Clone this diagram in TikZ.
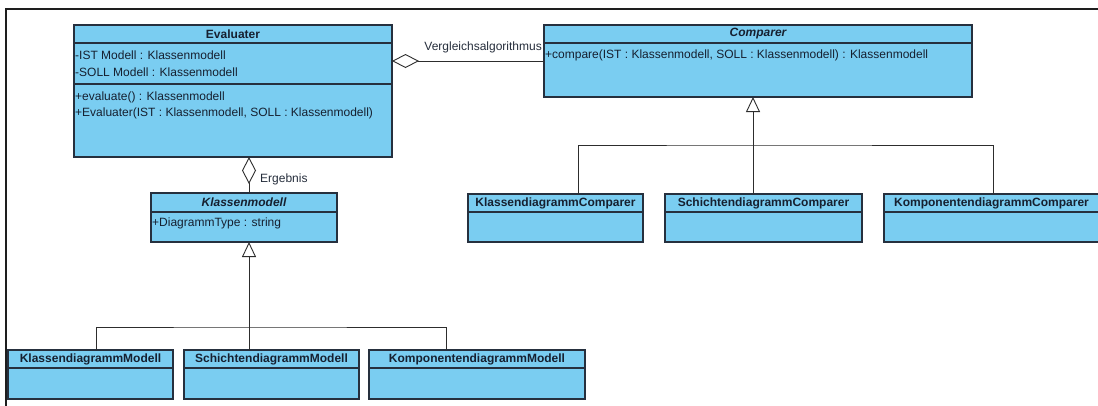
\documentclass[tikz,border=0pt]{standalone}
\usepackage{fontspec}
\setmainfont{Liberation Sans}
\usetikzlibrary{arrows.meta}
\definecolor{boxfill}{RGB}{122,205,241}
\definecolor{boxline}{RGB}{38,48,62}
\definecolor{txt}{RGB}{22,32,48}
\definecolor{wirec}{RGB}{45,45,45}
\definecolor{framec}{RGB}{30,30,30}
\begin{document}
\begin{tikzpicture}[x=1pt,y=-1pt,
  cls/.style={draw=boxline, fill=boxfill, line width=1.1pt, rectangle, inner sep=0pt, outer sep=0pt, anchor=north west},
  sepl/.style={draw=boxline, line width=1.1pt},
  ttl/.style={font=\bfseries\fontsize{12}{13}\selectfont, text=txt, inner sep=0pt},
  ttli/.style={font=\bfseries\itshape\fontsize{12}{13}\selectfont, text=txt, inner sep=0pt},
  mem/.style={font=\fontsize{12}{13}\selectfont, text=txt, inner sep=0pt, anchor=west},
  lbl/.style={font=\fontsize{12}{13}\selectfont, text=txt!85!gray, inner sep=0pt},
  wire/.style={draw=wirec, line width=0.9pt},
  agg/.style={wire, {Diamond[fill=white, length=27pt, width=14pt]}-},
  gen/.style={wire, -{Triangle[fill=white, length=15pt, width=14pt]}},
  border/.style={draw=framec, line width=1.8pt}
]
\useasboundingbox (0,0) rectangle (1098,405);
\fill[white] (0,0) rectangle (1098,405);
\draw[border] (1100,9) -- (6,9) -- (6,407);

% Evaluater
\node[cls, minimum width=318pt, minimum height=132pt] (ev) at (74,25) {};
\draw[sepl] ([yshift=-18pt]ev.north west) -- ([yshift=-18pt]ev.north east);
\draw[sepl] ([yshift=-59pt]ev.north west) -- ([yshift=-59pt]ev.north east);
\node[ttl] (evN) at ([yshift=-9pt]ev.north) {Evaluater};
\node[mem] (ev1) at ([xshift=1pt,yshift=-30pt]ev.north west) {-IST Modell : Klassenmodell};
\node[mem] (ev2) at ([xshift=1pt,yshift=-47pt]ev.north west) {-SOLL Modell : Klassenmodell};
\node[mem] (ev3) at ([xshift=1pt,yshift=-72pt]ev.north west) {+evaluate() : Klassenmodell};
\node[mem] (ev4) at ([xshift=1pt,yshift=-88pt]ev.north west) {+Evaluater(IST : Klassenmodell, SOLL : Klassenmodell)};

% Comparer
\node[cls, minimum width=428pt, minimum height=72pt] (cmp) at (544,25) {};
\draw[sepl] ([yshift=-18pt]cmp.north west) -- ([yshift=-18pt]cmp.north east);
\node[ttli] (cmpN) at ([yshift=-9pt]cmp.north) {Comparer};
\node[mem] (cmp1) at ([xshift=1pt,yshift=-30pt]cmp.north west) {+compare(IST : Klassenmodell, SOLL : Klassenmodell) : Klassenmodell};

% Klassenmodell
\node[cls, minimum width=186pt, minimum height=49pt] (km) at (151,193) {};
\draw[sepl] ([yshift=-19pt]km.north west) -- ([yshift=-19pt]km.north east);
\node[ttli] (kmN) at ([yshift=-9.5pt]km.north) {Klassenmodell};
\node[mem] (km1) at ([xshift=1pt,yshift=-30pt]km.north west) {+DiagrammType : string};

% Comparer subclasses
\node[cls, minimum width=175pt, minimum height=48pt] (kc) at (468,194) {};
\draw[sepl] ([yshift=-18pt]kc.north west) -- ([yshift=-18pt]kc.north east);
\node[ttl] (kcN) at ([yshift=-9pt]kc.north) {KlassendiagrammComparer};

\node[cls, minimum width=197pt, minimum height=48pt] (sc) at (665,194) {};
\draw[sepl] ([yshift=-18pt]sc.north west) -- ([yshift=-18pt]sc.north east);
\node[ttl] (scN) at ([yshift=-9pt]sc.north) {SchichtendiagrammComparer};

\node[cls, minimum width=215pt, minimum height=48pt] (pc) at (884,194) {};
\draw[sepl] ([yshift=-18pt]pc.north west) -- ([yshift=-18pt]pc.north east);
\node[ttl] (pcN) at ([yshift=-9pt]pc.north) {KomponentendiagrammComparer};

% Klassenmodell subclasses
\node[cls, minimum width=165pt, minimum height=49pt] (k1) at (8,350) {};
\draw[sepl] ([yshift=-18pt]k1.north west) -- ([yshift=-18pt]k1.north east);
\node[ttl] (k1N) at ([yshift=-9pt]k1.north) {KlassendiagrammModell};

\node[cls, minimum width=175pt, minimum height=49pt] (k2) at (184,350) {};
\draw[sepl] ([yshift=-18pt]k2.north west) -- ([yshift=-18pt]k2.north east);
\node[ttl] (k2N) at ([yshift=-9pt]k2.north) {SchichtendiagrammModell};

\node[cls, minimum width=216pt, minimum height=49pt] (k3) at (369,350) {};
\draw[sepl] ([yshift=-18pt]k3.north west) -- ([yshift=-18pt]k3.north east);
\node[ttl] (k3N) at ([yshift=-9pt]k3.north) {KomponentendiagrammModell};

% Aggregations
\draw[agg] ([yshift=-36pt]ev.north east) -- ([yshift=-36pt]cmp.north west);
\node[lbl, anchor=east] (vgl) at (542,47) {Vergleichsalgorithmus};
\draw[agg] ([xshift=16pt]ev.south) -- ([xshift=5pt]km.north);
\node[lbl, anchor=west] (erg) at (260,179) {Ergebnis};

% Generalization: Comparer
\coordinate (cj) at (753,145);
\draw[wire] ([xshift=110pt]kc.north west) |- (cj) -| ([xshift=109pt]pc.north west);
\draw[gen] ([xshift=88pt]sc.north west) -- ([xshift=-5pt]cmp.south);

% Generalization: Klassenmodell
\coordinate (mj) at (249,327);
\draw[wire] ([xshift=88pt]k1.north west) |- (mj) -| ([xshift=77pt]k3.north west);
\draw[gen] ([xshift=65pt]k2.north west) -- ([xshift=5pt]km.south);
\end{tikzpicture}
\end{document}
